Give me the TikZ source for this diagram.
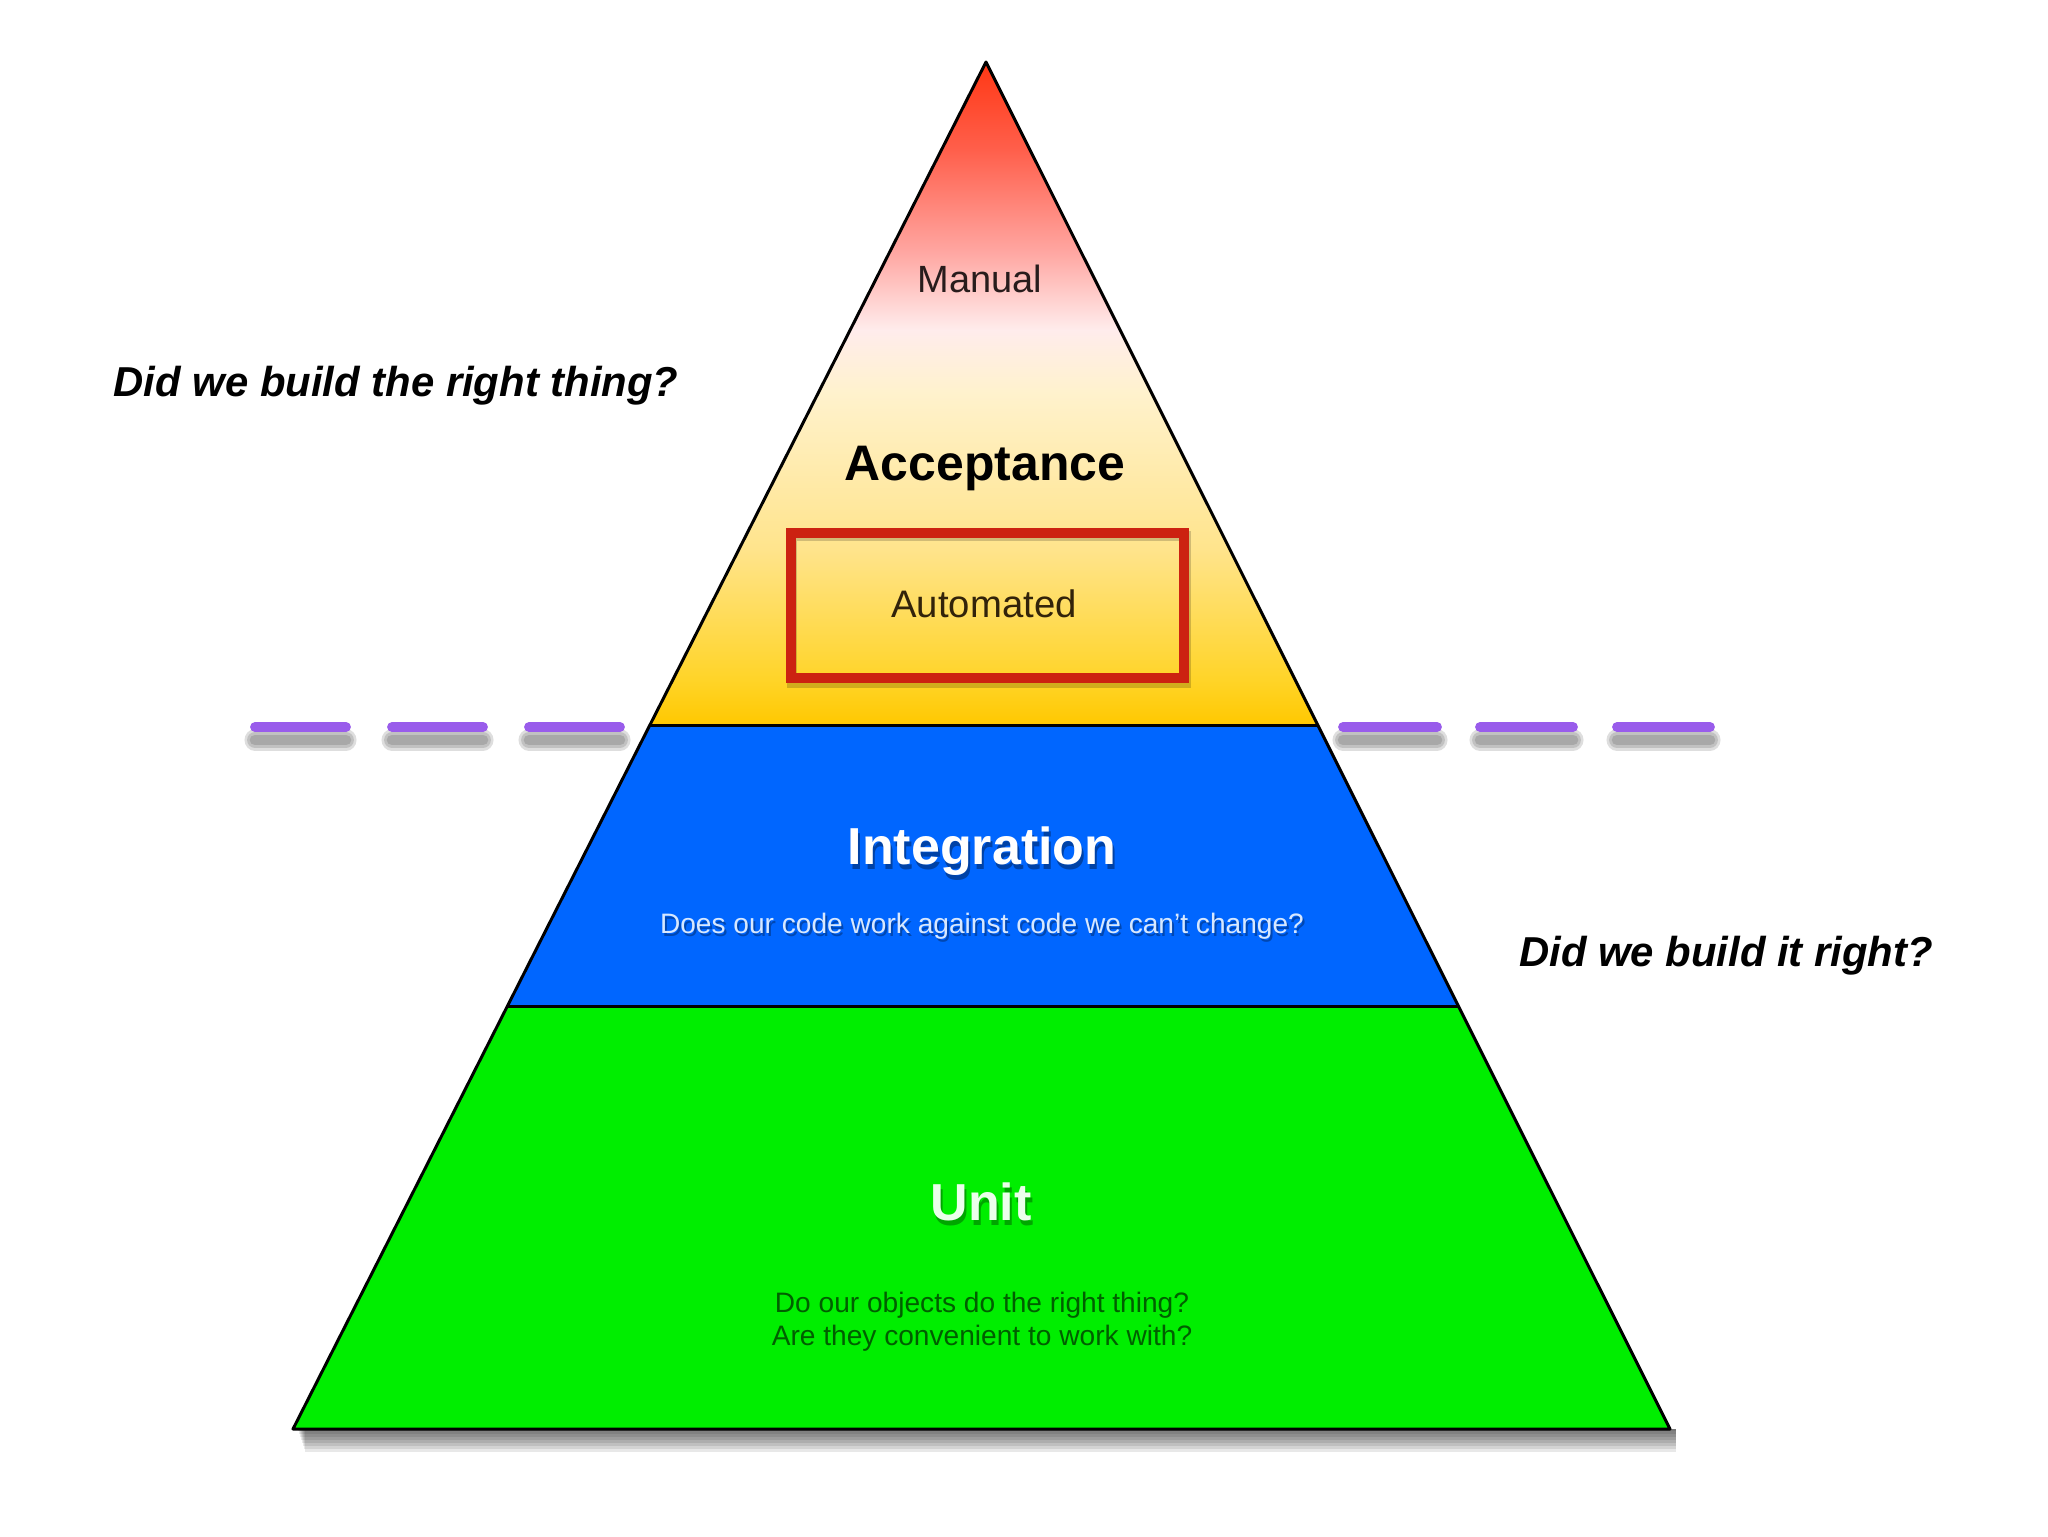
\documentclass[tikz,border=0pt]{standalone}
\usepackage{fontspec}
\setmainfont{Liberation Sans}
\usetikzlibrary{calc}

\definecolor{cA}{RGB}{255,200,0}
\definecolor{cB}{RGB}{255,212,40}
\definecolor{cC}{RGB}{255,228,140}
\definecolor{cD}{RGB}{255,242,205}
\definecolor{cE}{RGB}{255,236,236}
\definecolor{cF}{RGB}{255,165,160}
\definecolor{cG}{RGB}{255,95,75}
\definecolor{cH}{RGB}{255,55,20}
\definecolor{intblue}{RGB}{0,102,255}
\definecolor{unitgreen}{RGB}{0,238,0}
\definecolor{boxred}{RGB}{204,34,17}
\definecolor{dashpurple}{RGB}{153,92,235}
\definecolor{subgreen}{RGB}{0,95,0}
\definecolor{subblue}{RGB}{215,232,255}

\pgfdeclareverticalshading{accshade}{100bp}{color(0bp)=(cA); color(25bp)=(cA); color(28.4bp)=(cB); color(38.3bp)=(cC); color(50.1bp)=(cD); color(54.8bp)=(cE); color(60.8bp)=(cF); color(68.4bp)=(cG); color(75bp)=(cH); color(100bp)=(cH)}

\newcommand\myfs[1]{\fontsize{#1pt}{#1pt}\selectfont}

\begin{document}
\begin{tikzpicture}[x=0.1mm,y=-0.1mm,
  outline/.style={draw=black,line width=0.85pt,line join=round},
  dashseg/.style={draw=dashpurple,line width=2.8pt,line cap=round},
  dashshadow/.style={draw=black,opacity=0.13,line cap=round},
  lbl/.style={inner sep=0pt,anchor=base},
  title/.style={lbl,font=\myfs{14.8}\bfseries},
  question/.style={lbl,font=\myfs{11.9}\bfseries\itshape}]

\useasboundingbox (0,0) rectangle (2048,1536);
\fill[white] (0,0) rectangle (2048,1536);

% corner coordinates
\coordinate (apex) at (986,62);
\coordinate (l1) at (650,725);
\coordinate (r1) at (1318,725);
\coordinate (l2) at (507,1006);
\coordinate (r2) at (1458,1006);
\coordinate (bl) at (293,1429);
\coordinate (br) at (1670,1429);

% base shadow
\foreach \d in {2,5,8,11,14,17,20,23}{
  \fill[black,opacity=0.09] ($(bl)+(4+\d/3,0)$) rectangle ($(br)+(6,\d)$);
}

% bands
\shade[shading=accshade] (apex) -- (r1) -- (l1) -- cycle;
\fill[intblue] (l1) -- (r1) -- (r2) -- (l2) -- cycle;
\fill[unitgreen] (l2) -- (r2) -- (br) -- (bl) -- cycle;

% outlines
\draw[outline] (apex) -- (br) -- (bl) -- cycle;
\draw[outline] (l1) -- (r1);
\draw[outline] (l2) -- (r2);

% automated box
\draw[black,opacity=0.18,line width=2.6pt] (792,536) rectangle (1186,683);
\draw[boxred,line width=2.6pt] (791,533) rectangle (1184,678);

% texts in pyramid
\node[lbl,font=\myfs{10.8},text={rgb,255:red,40;green,28;blue,28}] (manual) at (980,292) {Manual};
\node[title,font=\myfs{14.2}\bfseries] (acceptance) at (985,480) {Acceptance};
\node[lbl,font=\myfs{10.9},text={rgb,255:red,50;green,35;blue,10}] (automated) at (984,617) {Automated};

\node[title,text=black,opacity=0.35] at (984,869) {Integration};
\node[title,text=white] (integration) at (982,864) {Integration};
\node[lbl,font=\myfs{8},text=black,opacity=0.3] at (984,936) {Does our code work against code we can't change?};
\node[lbl,font=\myfs{8},text=subblue] (intsub) at (982,933) {Does our code work against code we can't change?};

\node[title,text=black,opacity=0.3] at (983,1225) {Unit};
\node[title,text={rgb,255:red,235;green,255;blue,235}] (unit) at (981,1220) {Unit};
\node[lbl,font=\myfs{8},text=subgreen] (unitsub1) at (982,1312) {Do our objects do the right thing?};
\node[lbl,font=\myfs{8},text=subgreen] (unitsub2) at (982,1345) {Are they convenient to work with?};

% dashed separators
\foreach \a/\b in {255/346,392/483,529/620,1343/1437,1480/1573,1617/1710}{
  \foreach \w in {6,4.5,3}{
    \draw[dashshadow,line width=\w pt] (\a,740) -- (\b,740);
  }
  \draw[dashseg] (\a,727) -- (\b,727);
}

% side questions
\node[question] (q1) at (396,396) {Did we build the right thing?};
\node[question] (q2) at (1726,966) {Did we build it right?};

\end{tikzpicture}
\end{document}
